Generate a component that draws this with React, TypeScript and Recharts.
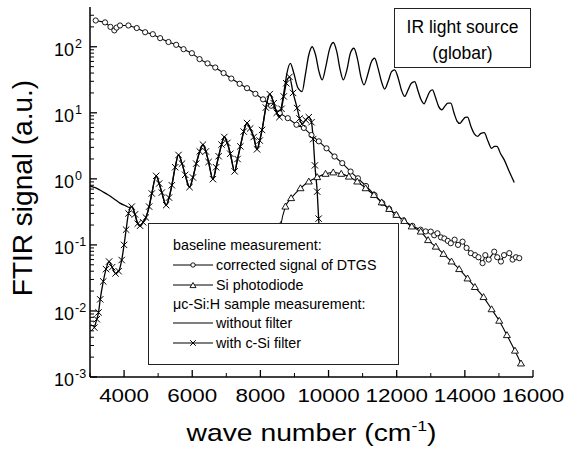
import React from 'react';
import { LineChart, Line, XAxis, YAxis, Legend } from 'recharts';

const FONT = '"Liberation Sans", Arial, Helvetica, sans-serif';

// ---- baseline: corrected signal of DTGS ----
const dtgsWave = [3167, 3441, 3600, 3715, 3780, 3882, 4127, 4372, 4618, 4843, 5059, 5303, 5529, 5745, 5990, 6215, 6450, 6676, 6920, 7147, 7391, 7608, 7853, 8079, 8314, 8568, 8804, 9059, 9275, 9500, 9715, 9941, 10176, 10403, 10647, 10863, 11100, 11350, 11579, 11780, 11970, 12200, 12461, 12700, 12850, 13000, 13100, 13196, 13300, 13400, 13500, 13588, 13700, 13800, 13932, 14050, 14176, 14300, 14400, 14520, 14600, 14700, 14862, 14950, 15059, 15150, 15303, 15400, 15500, 15597];
const dtgsSignal = [250, 234, 200, 177, 195, 210, 210, 192, 166, 155, 135, 118, 107, 92, 80, 65, 56, 48.5, 40, 33, 27.5, 23.6, 19.4, 16, 12.8, 9.9, 8.3, 6.6, 5.9, 4.6, 3.7, 2.9, 2.18, 1.73, 1.29, 1.02, 0.78, 0.57, 0.43, 0.35, 0.285, 0.235, 0.194, 0.17, 0.16, 0.159, 0.14, 0.15, 0.13, 0.125, 0.115, 0.106, 0.12, 0.1, 0.112, 0.09, 0.075, 0.07, 0.065, 0.053, 0.07, 0.06, 0.079, 0.065, 0.056, 0.07, 0.075, 0.06, 0.065, 0.063];

// ---- baseline: Si photodiode ----
const siWave = [8500, 8600, 8735, 8902, 9176, 9421, 9667, 9912, 10137, 10373, 10598, 10843, 11088, 11333, 11560, 11780, 11990, 12220, 12441, 12706, 12921, 13147, 13373, 13608, 13833, 14079, 14294, 14549, 14785, 15009, 15235, 15470, 15647];
const siSignal = [0.08, 0.2, 0.38, 0.51, 0.72, 0.91, 1.06, 1.19, 1.25, 1.19, 1.08, 0.91, 0.72, 0.57, 0.44, 0.35, 0.285, 0.23, 0.19, 0.159, 0.118, 0.094, 0.073, 0.056, 0.043, 0.031, 0.023, 0.0162, 0.0106, 0.0071, 0.0043, 0.0025, 0.0016];

// ---- sample: with c-Si filter ----
const filterWave = [3127, 3200, 3250, 3300, 3390, 3470, 3560, 3650, 3750, 3840, 3930, 4000, 4060, 4130, 4225, 4320, 4400, 4470, 4560, 4640, 4735, 4814, 4941, 5030, 5108, 5235, 5320, 5402, 5500, 5598, 5700, 5794, 5921, 6020, 6118, 6220, 6315, 6400, 6480, 6608, 6700, 6775, 6860, 6941, 7030, 7118, 7245, 7330, 7412, 7510, 7608, 7700, 7804, 7902, 7980, 8049, 8160, 8275, 8392, 8480, 8559, 8620, 8686, 8760, 8853, 8960, 9079, 9150, 9225, 9330, 9421, 9500, 9550, 9600, 9667, 9710, 9750];
const filterSignal = [0.0056, 0.0075, 0.0095, 0.015, 0.028, 0.043, 0.056, 0.046, 0.037, 0.04, 0.059, 0.1, 0.17, 0.3, 0.38, 0.29, 0.21, 0.195, 0.22, 0.26, 0.38, 0.6, 1.11, 0.85, 0.62, 0.4, 0.52, 0.8, 1.5, 2.3, 1.7, 1.15, 0.75, 1.05, 1.7, 2.6, 3.3, 2.6, 1.8, 0.99, 1.5, 2.2, 3.3, 4.3, 3.5, 2.4, 1.3, 2.0, 3.1, 5.2, 7.0, 5.8, 4.3, 2.8, 3.8, 5.5, 12, 19.2, 14, 10, 8.6, 11.5, 17.7, 28, 35, 20, 11.8, 8.2, 6.8, 7.8, 8.6, 7.2, 4.0, 1.6, 0.64, 0.25, 0.08];

// ---- sample: without filter (low-wavenumber part, shared part, high part) ----
const noFilterLowWave = [3000, 3100, 3200, 3350, 3540, 3700, 3880, 4050, 4156, 4225];
const noFilterLowSignal = [0.78, 0.75, 0.72, 0.65, 0.57, 0.5, 0.43, 0.39, 0.37, 0.38];
const noFilterHighWave = [8620, 8700, 8780, 8880, 8980, 9100, 9225, 9320, 9420, 9520, 9620, 9720, 9814, 9920, 10030, 10137, 10240, 10340, 10432, 10540, 10640, 10745, 10850, 10950, 11039, 11150, 11250, 11353, 11450, 11550, 11647, 11750, 11850, 11941, 12040, 12140, 12235, 12330, 12430, 12529, 12620, 12710, 12803, 12890, 12970, 13050, 13140, 13230, 13323, 13410, 13500, 13588, 13680, 13770, 13853, 13940, 14010, 14079, 14180, 14280, 14373, 14470, 14568, 14680, 14785, 14870, 14941, 15050, 15156, 15300, 15450];
const noFilterHighSignal = [12.5, 22, 40, 56, 40, 24, 21, 38, 75, 100, 75, 42, 31.6, 50, 92, 116, 85, 45, 31.6, 45, 80, 95, 65, 35, 26.5, 38, 58, 67, 48, 30, 22.9, 30, 42, 44.8, 34, 22, 17.7, 22, 28, 29.7, 22, 16, 13.7, 17, 21, 22.3, 17, 12.5, 11.1, 12.5, 14, 14, 10, 7.5, 6.9, 7.8, 8.5, 8.6, 6.2, 4.8, 4.4, 4.9, 5.0, 3.7, 2.9, 3.1, 3.1, 2.4, 1.94, 1.3, 0.88];

// ---- axes ----
const xMajorTicks = [4000, 6000, 8000, 10000, 12000, 14000, 16000];
const xTickLabels = ['4000', '6000', '8000', '10000', '12000', '14000', '16000'];
const xMinorTicks = [3000, 5000, 7000, 9000, 11000, 13000, 15000];
const yMajorTicks = [0.001, 0.01, 0.1, 1, 10, 100];
const yTickExponents = ['-3', '-2', '-1', '0', '1', '2'];
const yMinorMultipliers = [2, 3, 4, 5, 6, 7, 8, 9];
const X_DOMAIN: [number, number] = [3000, 16000];
const Y_DOMAIN: [number, number] = [0.001, 400];

const toPoints = (xs: number[], ys: number[]) => xs.map((x, i) => ({ x, y: ys[i] }));

const dtgsData = toPoints(dtgsWave, dtgsSignal);
const siData = toPoints(siWave, siSignal);
const filterData = toPoints(filterWave, filterSignal);
const sharedData = filterData.filter((p) => p.x > 4225 && p.x <= 8559);
const noFilterData = [
  ...toPoints(noFilterLowWave, noFilterLowSignal),
  ...sharedData,
  ...toPoints(noFilterHighWave, noFilterHighSignal),
];

const xAllTicks = [...xMajorTicks, ...xMinorTicks].sort((a, b) => a - b);
const yAllTicks: number[] = [];
yMajorTicks.forEach((m) => {
  yAllTicks.push(m);
  yMinorMultipliers.forEach((k) => {
    if (m * k < Y_DOMAIN[1]) yAllTicks.push(m * k);
  });
});

const majorY = (v: number) => yMajorTicks.findIndex((m) => Math.abs(m - v) / m < 1e-6);
const majorX = (v: number) => xMajorTicks.indexOf(v);

// ---- tick renderers (inward ticks) ----
const LeftTick = (props: any) => {
  const { x, y, payload } = props;
  const idx = majorY(payload.value);
  const major = idx >= 0;
  return (
    <g>
      <line x1={x} x2={x + (major ? 7 : 4)} y1={y} y2={y} stroke="#000" strokeWidth={major ? 1.3 : 1} />
      {major && (
        <g fontFamily={FONT} fill="#000">
          <text x={x - 16} y={y + 9} textAnchor="end" fontSize={18}>10</text>
          <text x={x - 15} y={y + 1} textAnchor="start" fontSize={12.5}>{yTickExponents[idx]}</text>
        </g>
      )}
    </g>
  );
};

const RightTick = (props: any) => {
  const { x, y, payload } = props;
  const major = majorY(payload.value) >= 0;
  return <line x1={x} x2={x - (major ? 7 : 4)} y1={y} y2={y} stroke="#000" strokeWidth={major ? 1.3 : 1} />;
};

const BottomTick = (props: any) => {
  const { x, y, payload } = props;
  const idx = majorX(payload.value);
  const major = idx >= 0;
  return (
    <g>
      <line x1={x} x2={x} y1={y} y2={y - (major ? 7 : 4)} stroke="#000" strokeWidth={major ? 1.3 : 1} />
      {major && (
        <text
          transform={`translate(${x},${y + 25}) scale(1.18,1)`}
          textAnchor="middle"
          fontSize={19}
          fontFamily={FONT}
          fill="#000"
        >
          {xTickLabels[idx]}
        </text>
      )}
    </g>
  );
};

const TopTick = (props: any) => {
  const { x, y, payload } = props;
  const major = majorX(payload.value) >= 0;
  return <line x1={x} x2={x} y1={y} y2={y + (major ? 7 : 4)} stroke="#000" strokeWidth={major ? 1.3 : 1} />;
};

const XLabel = (props: any) => {
  const vb = props.viewBox || { x: 90, y: 377, width: 443, height: 75 };
  const cx = vb.x + vb.width / 2;
  const by = vb.y + 64;
  return (
    <text transform={`translate(${cx},${by}) scale(1.18,1)`} textAnchor="middle" fontSize={24} fontFamily={FONT} fill="#000">
      wave number (cm
      <tspan dy={-10} fontSize={15}>-1</tspan>
      <tspan dy={10}>)</tspan>
    </text>
  );
};

const YLabel = (props: any) => {
  const vb = props.viewBox || { x: 20, y: 7, width: 70, height: 370 };
  const bx = vb.x + 12;
  const cy = vb.y + vb.height / 2 - 4;
  return (
    <text transform={`translate(${bx},${cy}) rotate(-90)`} textAnchor="middle" fontSize={28} fontFamily={FONT} fill="#000">
      FTIR signal (a.u.)
    </text>
  );
};

// ---- markers ----
const Circ = ({ cx, cy, r = 2.6 }: any) =>
  cx == null || cy == null ? null : <circle cx={cx} cy={cy} r={r} fill="#fff" stroke="#000" strokeWidth={0.9} />;
const Tri = ({ cx, cy, s = 3.5 }: any) =>
  cx == null || cy == null ? null : (
    <polygon
      points={`${cx},${cy - s} ${cx - s},${cy + s * 0.7} ${cx + s},${cy + s * 0.7}`}
      fill="#fff"
      stroke="#000"
      strokeWidth={0.9}
    />
  );
const Cross = ({ cx, cy, s = 3.2 }: any) =>
  cx == null || cy == null ? null : (
    <path d={`M${cx - s},${cy - s}L${cx + s},${cy + s}M${cx - s},${cy + s}L${cx + s},${cy - s}`} stroke="#000" strokeWidth={1} />
  );

// ---- legend ----
const LegendSample = ({ marker }: { marker: string }) => (
  <svg width={40} height={10} style={{ display: 'block' }}>
    <line x1={0} x2={40} y1={5} y2={5} stroke="#000" strokeWidth={1.2} />
    {marker === 'circle' && <Circ cx={20} cy={5} r={2.2} />}
    {marker === 'triangle' && <Tri cx={20} cy={5.5} s={3} />}
    {marker === 'cross' && <Cross cx={20} cy={5} s={2.8} />}
  </svg>
);

const legendRows = [
  { center: 22, label: 'baseline measurement:', marker: null },
  { center: 42, label: 'corrected signal of DTGS', marker: 'circle' },
  { center: 61.5, label: 'Si photodiode', marker: 'triangle' },
  { center: 80.5, label: '\u03bcc-Si:H sample measurement:', marker: null },
  { center: 100, label: 'without filter', marker: 'line' },
  { center: 120, label: 'with c-Si filter', marker: 'cross' },
];

const LegendBox = () => (
  <div
    style={{
      position: 'relative',
      width: 251,
      height: 142,
      boxSizing: 'border-box',
      border: '1px solid #222',
      background: '#fff',
      fontFamily: FONT,
      fontSize: 14.3,
      color: '#000',
    }}
  >
    {legendRows.map((r) => (
      <div
        key={r.label}
        style={{
          position: 'absolute',
          left: 24,
          top: r.center - 10 - 1,
          height: 20,
          display: 'flex',
          alignItems: 'center',
          whiteSpace: 'nowrap',
        }}
      >
        {r.marker && (
          <div style={{ width: 43 }}>
            <LegendSample marker={r.marker} />
          </div>
        )}
        <span>{r.label}</span>
      </div>
    ))}
  </div>
);

export default function App() {
  return (
    <div style={{ position: 'absolute', left: 0, top: 0, width: 565, height: 452, background: '#fff' }}>
      <LineChart width={565} height={452} margin={{ top: 7, right: 32, bottom: 0, left: 20 }}>
        <XAxis
          xAxisId="b"
          type="number"
          dataKey="x"
          domain={X_DOMAIN}
          allowDataOverflow
          ticks={xAllTicks}
          interval={0}
          tick={<BottomTick />}
          tickLine={false}
          tickSize={0}
          tickMargin={0}
          height={75}
          axisLine={{ stroke: '#000', strokeWidth: 1.5 }}
          label={<XLabel />}
        />
        <XAxis
          xAxisId="t"
          orientation="top"
          type="number"
          dataKey="x"
          domain={X_DOMAIN}
          allowDataOverflow
          ticks={xAllTicks}
          interval={0}
          tick={<TopTick />}
          tickLine={false}
          tickSize={0}
          tickMargin={0}
          height={0}
          axisLine={{ stroke: '#000', strokeWidth: 1.5 }}
        />
        <YAxis
          yAxisId="l"
          type="number"
          scale="log"
          domain={Y_DOMAIN}
          allowDataOverflow
          ticks={yAllTicks}
          interval={0}
          tick={<LeftTick />}
          tickLine={false}
          tickSize={0}
          tickMargin={0}
          width={70}
          axisLine={{ stroke: '#000', strokeWidth: 1.5 }}
          label={<YLabel />}
        />
        <YAxis
          yAxisId="r"
          orientation="right"
          type="number"
          scale="log"
          domain={Y_DOMAIN}
          allowDataOverflow
          ticks={yAllTicks}
          interval={0}
          tick={<RightTick />}
          tickLine={false}
          tickSize={0}
          tickMargin={0}
          width={0}
          axisLine={{ stroke: '#000', strokeWidth: 1.5 }}
        />
        <Line
          data={dtgsData}
          xAxisId="b"
          yAxisId="l"
          dataKey="y"
          type="linear"
          stroke="#000"
          strokeWidth={1.1}
          dot={(p: any) => <Circ key={`c${p.index}`} cx={p.cx} cy={p.cy} />}
          activeDot={false}
          isAnimationActive={false}
        />
        <Line
          data={siData}
          xAxisId="b"
          yAxisId="l"
          dataKey="y"
          type="monotone"
          stroke="#000"
          strokeWidth={1.1}
          dot={(p: any) => <Tri key={`t${p.index}`} cx={p.cx} cy={p.cy} />}
          activeDot={false}
          isAnimationActive={false}
        />
        <Line
          data={noFilterData}
          xAxisId="b"
          yAxisId="l"
          dataKey="y"
          type="monotone"
          stroke="#000"
          strokeWidth={1.3}
          dot={false}
          activeDot={false}
          isAnimationActive={false}
        />
        <Line
          data={filterData}
          xAxisId="b"
          yAxisId="l"
          dataKey="y"
          type="monotone"
          stroke="#000"
          strokeWidth={1.3}
          dot={(p: any) => <Cross key={`x${p.index}`} cx={p.cx} cy={p.cy} />}
          activeDot={false}
          isAnimationActive={false}
        />
        <Legend
          content={<LegendBox />}
          layout="horizontal"
          verticalAlign="middle"
          align="center"
          wrapperStyle={{ left: 148, top: 223, width: 251, height: 142 }}
        />
      </LineChart>
      <div
        style={{
          position: 'absolute',
          left: 394,
          top: 8,
          width: 137,
          height: 60,
          boxSizing: 'border-box',
          border: '1px solid #222',
          background: '#fff',
          fontFamily: FONT,
          fontSize: 17.5,
          color: '#000',
          textAlign: 'center',
        }}
      >
        <div style={{ position: 'absolute', left: 0, right: 0, top: 5, height: 26, lineHeight: '26px' }}>IR light source</div>
        <div style={{ position: 'absolute', left: 0, right: 0, top: 31, height: 26, lineHeight: '26px' }}>(globar)</div>
      </div>
    </div>
  );
}
